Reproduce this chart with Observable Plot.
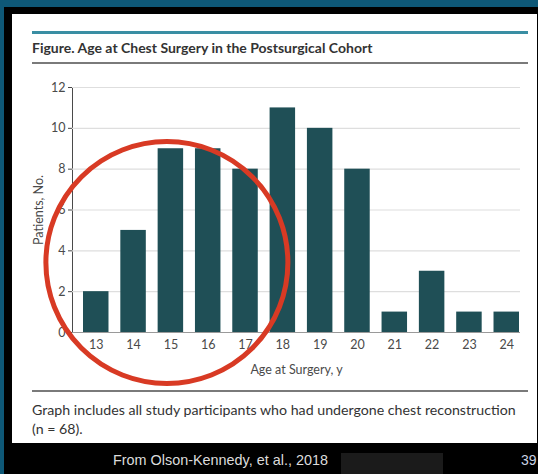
<!DOCTYPE html>
<html><head><meta charset="utf-8">
<script src="https://cdn.jsdelivr.net/npm/d3@7"></script>
<script src="https://cdn.jsdelivr.net/npm/@observablehq/plot@0.6"></script>
<style>
html,body{margin:0;padding:0;}
body{width:538px;height:474px;background:#0e5877;position:relative;overflow:hidden;font-family:Lato,"Noto Sans",sans-serif;}
.abs{position:absolute;}
#frame{left:4px;top:7px;width:534px;height:467px;background:#000;}
#card{left:12px;top:14px;width:525px;height:429px;background:#fff;}
#teal{left:32px;top:31px;width:496px;height:3px;background:#3a8ea3;}
#title{left:32px;top:40px;font-weight:700;font-size:14px;line-height:16px;color:#333;white-space:nowrap;}
#rule1{left:32px;top:62px;width:496px;height:1.5px;background:#7a7a7a;}
#chart{left:0;top:70px;}
#rule2{left:32px;top:390px;width:496px;height:1.5px;background:#7a7a7a;}
#caption{left:32px;top:400px;font-size:14.2px;line-height:19px;color:#333;white-space:nowrap;}
#source{left:113px;top:452px;font-family:"Liberation Sans",Arial,sans-serif;font-size:14.4px;line-height:16px;color:#dcdcdc;white-space:nowrap;}
#redact{left:341px;top:453px;width:102px;height:21px;background:#1b1b1b;}
#pagenum{left:521px;top:452px;font-family:"Liberation Sans",Arial,sans-serif;font-size:14px;line-height:16px;color:#c9d2e3;}
</style>
</head><body>
<div id="frame" class="abs"></div>
<div id="card" class="abs"></div>
<div id="teal" class="abs"></div>
<div id="title" class="abs">Figure. Age at Chest Surgery in the Postsurgical Cohort</div>
<div id="rule1" class="abs"></div>
<div id="chart" class="abs"></div>
<div id="rule2" class="abs"></div>
<div id="caption" class="abs">Graph includes all study participants who had undergone chest reconstruction<br>(n = 68).</div>
<div id="source" class="abs">From Olson-Kennedy, et al., 2018</div>
<div id="redact" class="abs"></div>
<div id="pagenum" class="abs">39</div>
<script>
const ages = ["13","14","15","16","17","18","19","20","21","22","23","24"];
const patients = [2,5,9,9,8,11,10,8,1,3,1,1];
const yTicks = [0,2,4,6,8,10,12];
const highlight = [{age:"15", value:3.43}];

const data = ages.map((a,i)=>({age:a, n:patients[i]}));

const chart = Plot.plot({
  width:538, height:320,
  marginLeft:72, marginRight:18, marginTop:17, marginBottom:58,
  style:{fontFamily:"Lato, sans-serif", fontSize:"12.5px", color:"#4a4a4a", background:"transparent", overflow:"visible"},
  x:{domain:ages, range:[83,519], round:false, paddingInner:0.317, paddingOuter:0, label:"Age at Surgery, y", labelAnchor:"center", labelOffset:41, labelArrow:false, tickSize:0, tickPadding:8},
  y:{domain:[0,12], ticks:yTicks, label:"Patients, No.", labelAnchor:"center", labelOffset:38, labelArrow:false, tickSize:4, tickPadding:3, line:true},
  marks:[
    Plot.ruleY(yTicks.filter(d=>d>0), {stroke:"#dedede", strokeWidth:1.2}),
    Plot.barY(data, {x:"age", y:"n", fill:"#1f4f56"}),
    Plot.ruleY([0], {stroke:"#9a9a9a", strokeWidth:1.2}),
    Plot.dot(highlight, {x:"age", y:"value", r:121, dx:-4, stroke:"#d83a24", strokeWidth:5, fill:"none"})
  ]
});
document.getElementById("chart").appendChild(chart);
</script>
</body></html>
